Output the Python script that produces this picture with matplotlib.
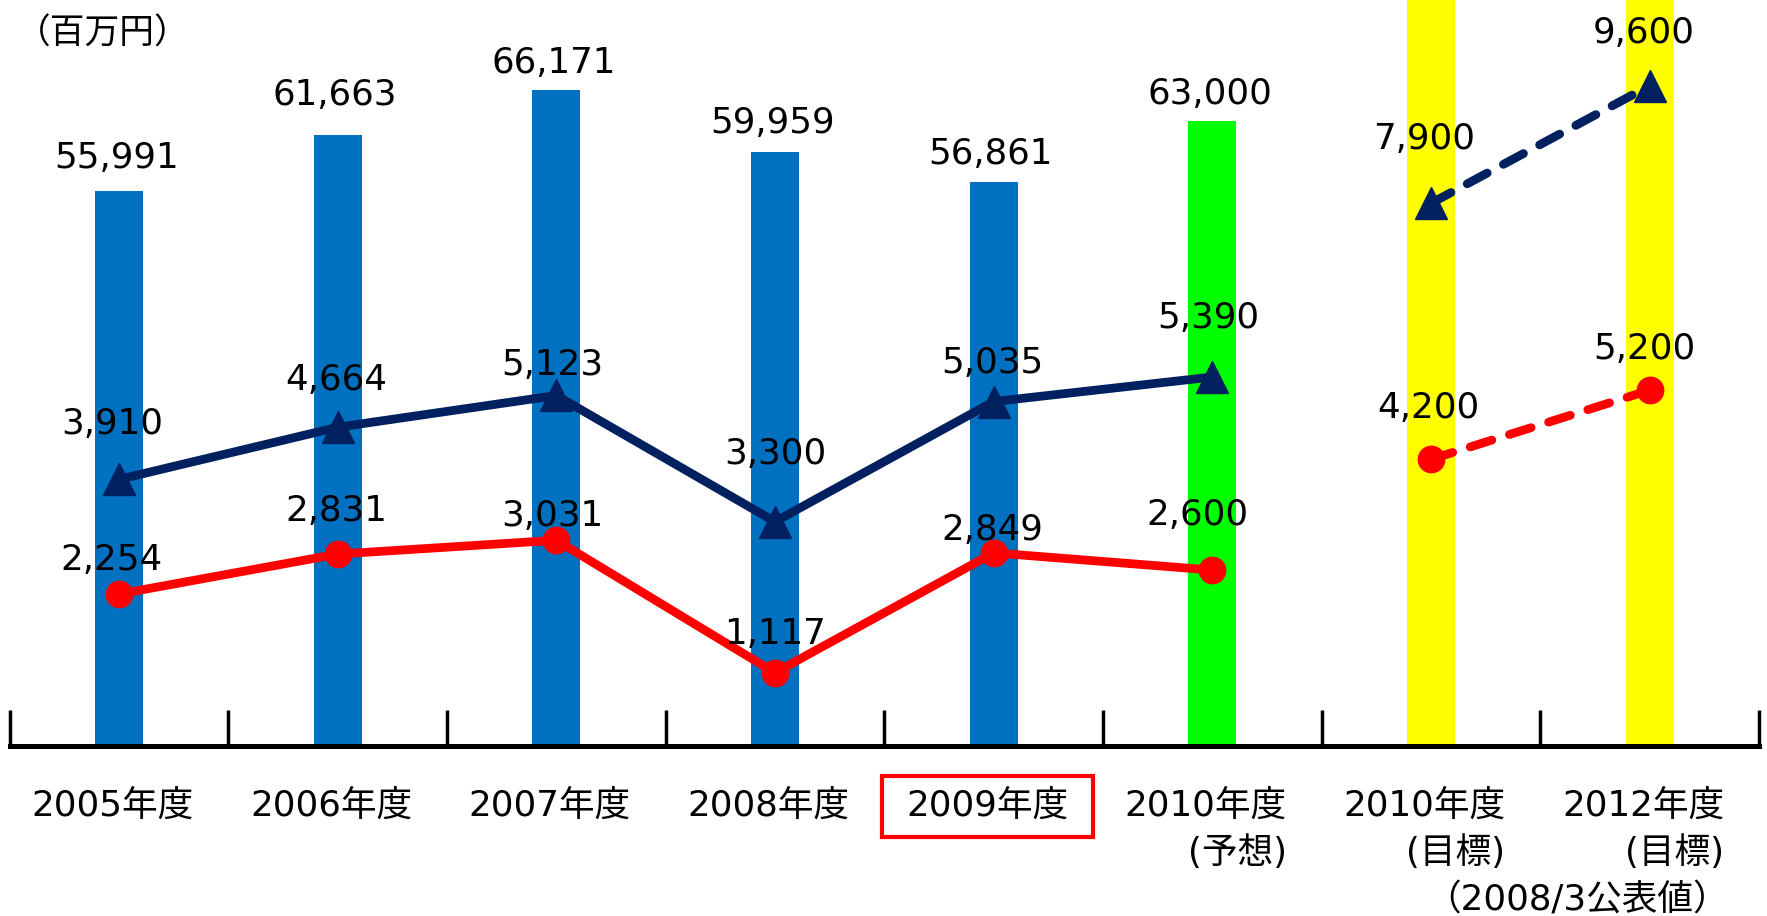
import matplotlib.pyplot as plt
from matplotlib.patches import Rectangle
from matplotlib.transforms import blended_transform_factory

plt.rcParams['font.family'] = ['DejaVu Sans', 'Noto Sans CJK JP']

# fiscal years on the x axis
years = ['2005年度', '2006年度', '2007年度', '2008年度', '2009年度',
         '2010年度', '2010年度', '2012年度']
year_notes = ['', '', '', '', '', '(予想)', '(目標)', '(目標)']
unit_label = '（百万円）'
target_note = '（2008/3公表値）'

# sales (bars), results + forecast
sales = [55991, 61663, 66171, 59959, 56861, 63000]
# two profit lines, results + forecast
blue_line = [3910, 4664, 5123, 3300, 5035, 5390]
red_line = [2254, 2831, 3031, 1117, 2849, 2600]
# mid-term targets
blue_target = [7900, 9600]
red_target = [4200, 5200]

BLUE_BAR = '#0070C0'
GREEN_BAR = '#00FF00'
YELLOW_BAR = '#FFFF00'
NAVY = '#002060'
RED = '#FF0000'

FS = 25.7


def fmt(v):
    return '{:,}'.format(v)


def label_points(ax, xs, vals, offsets):
    """put value text above each point, offsets in points to baseline"""
    for x, v, (dx, dy) in zip(xs, vals, offsets):
        ax.annotate(fmt(v), xy=(x, v), xytext=(dx, dy),
                    textcoords='offset points', ha='center', va='baseline',
                    fontsize=FS, color='black')


fig = plt.figure(figsize=(17.67, 9.16), dpi=100)
ax = fig.add_axes([0.00543, 0.1856, 0.99004, 0.8144])
ax2 = ax.twinx()

n = len(years)
xs = list(range(n))
x_res = xs[:len(sales)]
x_tgt = xs[len(sales):]

# bars
ax.set_ylim(0, 75247)
ax.set_xlim(-0.5, n - 0.5)
bar_colors = [BLUE_BAR] * (len(sales) - 1) + [GREEN_BAR]
ax.bar(x_res, sales, width=0.22, color=bar_colors, zorder=2)
ax.bar(x_tgt, [ax.get_ylim()[1]] * len(x_tgt), width=0.22,
       color=YELLOW_BAR, zorder=2)
bar_offsets = [16.5, 21.5, 12.5, 13.5, 13.5, 12.5]
for x, v, dy in zip(x_res, sales, bar_offsets):
    ax.annotate(fmt(v), xy=(x, v), xytext=(-2, dy), textcoords='offset points',
                ha='center', va='baseline', fontsize=FS)

# lines on the second scale
ax2.set_ylim(58, 10838)
ax2.plot(x_res, blue_line, color=NAVY, lw=6.3, marker='^', ms=23,
         solid_joinstyle='miter', zorder=3)
ax2.plot(x_res, red_line, color=RED, lw=6.3, marker='o', ms=19, zorder=3)
ax2.plot(x_tgt, blue_target, color=NAVY, lw=6.3, ls=(0, (2.6, 2.1)),
         dash_capstyle='round', marker='^', ms=23, zorder=3)
ax2.plot(x_tgt, red_target, color=RED, lw=6.3, ls=(0, (2.6, 2.1)),
         dash_capstyle='round', marker='o', ms=19, zorder=3)

label_points(ax2, x_res, blue_line,
             [(-5, 32.5), (-1, 27), (-3, 14.5), (0, 41.5), (-1, 20.5), (-3, 35)])
label_points(ax2, x_tgt, blue_target, [(-5, 39), (-4, 31)])
label_points(ax2, x_res, red_line,
             [(-5, 17.5), (-1, 23.5), (-3, 10.5), (0, 20.5), (-1, 9.2), (-11, 32.5)])
label_points(ax2, x_tgt, red_target, [(-2, 29.5), (-4, 22.5)])

# axis styling: only the bottom line with inward category separators
for a in (ax, ax2):
    for side in ('top', 'right', 'left'):
        a.spines[side].set_visible(False)
    a.set_yticks([])
ax2.spines['bottom'].set_visible(False)
ax.spines['bottom'].set_linewidth(3.6)
ax.spines['bottom'].set_capstyle('projecting')
ax.set_xticks(xs)
ax.set_xticklabels([])
ax.tick_params(axis='x', which='major', length=0)
ax.set_xticks([i - 0.5 for i in range(n + 1)], minor=True)
ax.tick_params(axis='x', which='minor', direction='in', length=26, width=2.5,
               color='black')
ax2.set_xticks([])

# category labels under the axis
trans = blended_transform_factory(ax.transData, fig.transFigure)
for x, name, note in zip(xs, years, year_notes):
    ax.text(x - 0.03, 0.109, name, transform=trans, ha='center',
            va='baseline', fontsize=FS, clip_on=False)
    if note:
        ax.text(x + 0.34, 0.058, note, transform=trans, ha='right',
                va='baseline', fontsize=FS, clip_on=False)
ax.text(6.67, 0.0065, target_note, transform=trans, ha='center',
        va='baseline', fontsize=FS, clip_on=False)

# red frame around the current year
ax.add_patch(Rectangle((3.489, 0.0862), 0.965, 0.0666, transform=trans,
                       fill=False, edgecolor=RED, lw=3, clip_on=False))

fig.text(0.009, 0.952, unit_label, ha='left', va='baseline', fontsize=25)

fig.savefig('out.png', dpi=100)
